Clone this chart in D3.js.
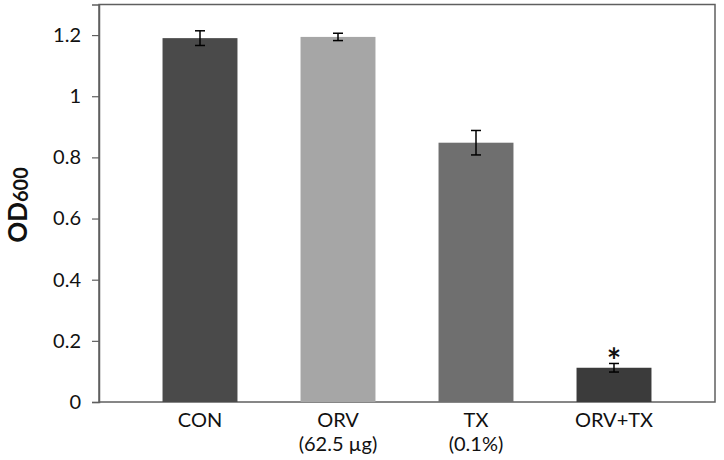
<!DOCTYPE html>
<html>
<head>
<meta charset="utf-8">
<script src="https://cdn.jsdelivr.net/npm/d3@7"></script>
<style>
  html, body { margin: 0; padding: 0; background: #fff; }
  svg { display: block; }
  text { font-family: Lato, "Open Sans", sans-serif; fill: #111; }
</style>
</head>
<body>
<svg id="chart" width="724" height="460"></svg>
<script>
const categories = ["CON", "ORV", "TX", "ORV+TX"];
const subLabels = ["", "(62.5 µg)", "(0.1%)", ""];
const values = [1.19, 1.194, 0.848, 0.112];
const errors = [0.024, 0.012, 0.04, 0.014];
const barColors = ["#4a4a4a", "#a6a6a6", "#6f6f6f", "#3b3b3b"];
const significance = ["", "", "", "*"];
const yTicks = [0, 0.2, 0.4, 0.6, 0.8, 1, 1.2];

const svg = d3.select("#chart");
const frame = { left: 99, right: 715, top: 4.5, bottom: 402 };

const x = d3.scaleBand()
  .domain(categories)
  .range([131, 683])
  .paddingInner(0.457)
  .paddingOuter(0.2285);

const y = d3.scaleLinear()
  .domain([0, 1.3])
  .range([frame.bottom, frame.top]);

// frame
svg.append("rect")
  .attr("x", frame.left).attr("y", frame.top)
  .attr("width", frame.right - frame.left)
  .attr("height", frame.bottom - frame.top)
  .attr("fill", "none")
  .attr("stroke", "#5f5f5f")
  .attr("stroke-width", 1.5);

// y axis
const yAxis = d3.axisLeft(y)
  .tickValues(yTicks)
  .tickSize(7)
  .tickPadding(11)
  .tickFormat(d => d3.format("")(d));
const gy = svg.append("g")
  .attr("transform", `translate(${frame.left},0)`)
  .call(yAxis);
gy.select(".domain").attr("stroke", "#5f5f5f").attr("stroke-width", 1.5);
gy.selectAll(".tick line").attr("stroke", "#5f5f5f").attr("stroke-width", 1.2);
gy.selectAll(".tick text")
  .attr("font-family", "Lato, 'Open Sans', sans-serif")
  .attr("font-size", 20)
  .attr("fill", "#111");

// bars
svg.append("g").selectAll("rect")
  .data(categories)
  .join("rect")
  .attr("x", d => x(d))
  .attr("y", (d, i) => y(values[i]))
  .attr("width", x.bandwidth())
  .attr("height", (d, i) => y(0) - y(values[i]))
  .attr("fill", (d, i) => barColors[i]);

// error bars
const eg = svg.append("g").attr("stroke", "#000").attr("stroke-width", 1.5);
categories.forEach((c, i) => {
  const cx = x(c) + x.bandwidth() / 2;
  const y1 = y(values[i] + errors[i]);
  const y2 = y(values[i] - errors[i]);
  eg.append("line").attr("x1", cx).attr("x2", cx).attr("y1", y1).attr("y2", y2);
  eg.append("line").attr("x1", cx - 5).attr("x2", cx + 5).attr("y1", y1).attr("y2", y1);
  eg.append("line").attr("x1", cx - 5).attr("x2", cx + 5).attr("y1", y2).attr("y2", y2);
  if (significance[i]) {
    svg.append("text")
      .attr("x", cx)
      .attr("y", y1 + 10)
      .attr("text-anchor", "middle")
      .attr("font-size", 34)
      .attr("font-weight", "bold")
      .text(significance[i]);
  }
});

// x labels
const xl = svg.append("g");
categories.forEach((c, i) => {
  const cx = x(c) + x.bandwidth() / 2;
  xl.append("text")
    .attr("x", cx).attr("y", 427)
    .attr("text-anchor", "middle")
    .attr("font-size", 20)
    .text(c);
  if (subLabels[i]) {
    xl.append("text")
      .attr("x", cx).attr("y", 451)
      .attr("text-anchor", "middle")
      .attr("font-size", 20)
      .text(subLabels[i]);
  }
});

// y title
const yt = svg.append("text")
  .attr("transform", "translate(27,205) rotate(-90)")
  .attr("text-anchor", "middle")
  .attr("font-weight", "bold")
  .attr("font-size", 26);
yt.append("tspan").text("OD");
yt.append("tspan").attr("font-size", 20).attr("dy", 1).text("600");
</script>
</body>
</html>
